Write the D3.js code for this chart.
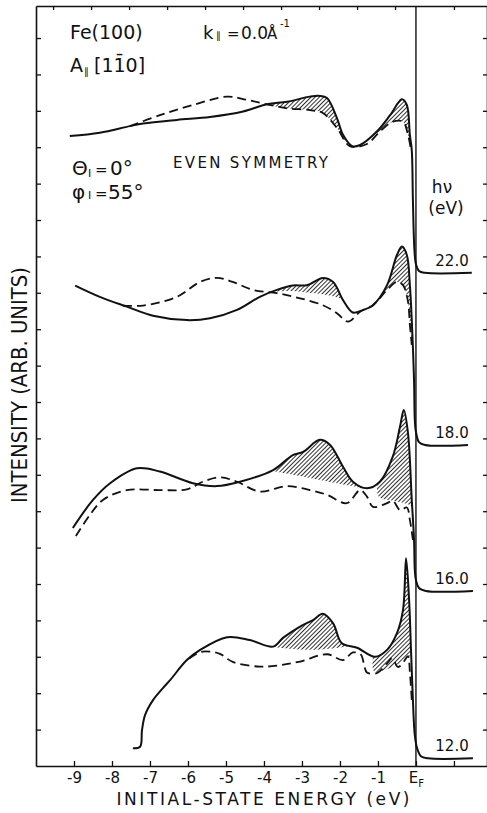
<!DOCTYPE html>
<html>
<head>
<meta charset="utf-8">
<script src="https://cdn.jsdelivr.net/npm/d3@7"></script>
<style>
  body { margin: 0; background: #fff; }
  svg { display: block; }
  text { font-family: "DejaVu Sans", "Liberation Sans", sans-serif; fill: #111; }
</style>
</head>
<body>
<svg id="chart" width="487" height="813"></svg>
<script>
// Energy axis: initial-state energy in eV (E_F = 0)
const energyTicks = [-9, -8, -7, -6, -5, -4, -3, -2, -1, 0, 1];
const energyTickLabels = ["-9", "-8", "-7", "-6", "-5", "-4", "-3", "-2", "-1", "E", ""];
const topTicks = [-9.55, -8.55, -7.55, -6.55, -5.55, -4.55, -3.55, -2.55, -1.55, -0.55, 1.0];
const intensityTicks = d3.range(1, 21);
const photonEnergies = ["22.0", "18.0", "16.0", "12.0"];

// Spectra [energy (eV), intensity (arb. units, offset)]
const solid22 = [[-9.11,17.31],[-8.32,17.40],[-7.53,17.58],[-7.18,17.65],[-6.29,17.75],[-5.42,17.83],[-4.55,17.98],[-3.92,18.18],[-3.39,18.25],[-2.79,18.39],[-2.53,18.41],[-2.34,18.35],[-2.08,17.80],[-1.92,17.34],[-1.68,17.03],[-1.47,17.06],[-1.03,17.43],[-0.68,17.88],[-0.37,18.32],[-0.24,18.16],[-0.16,17.34],[-0.11,16.92],[-0.08,15.55],[-0.04,14.18],[0.0,13.79],[0.08,13.60],[0.24,13.55],[1.47,13.55]];
const dashed22 = [[-7.53,17.58],[-6.74,17.88],[-5.87,18.16],[-4.97,18.39],[-4.45,18.30],[-3.92,18.18],[-3.39,18.07],[-2.79,18.02],[-2.45,17.94],[-2.08,17.53],[-1.74,17.03],[-1.29,17.09],[-0.95,17.43],[-0.61,17.70],[-0.34,17.70],[-0.21,17.34],[-0.13,16.92]];
const hatch22a = [[-3.95,18.17],[-3.39,18.07],[-2.79,18.02],[-2.45,17.94],[-2.08,17.53],[-1.85,17.15]];
const hatch22b = [[-1.05,17.38],[-0.95,17.43],[-0.61,17.70],[-0.34,17.70],[-0.21,17.34],[-0.13,16.92],[-0.08,16.0]];

const solid18 = [[-8.97,13.20],[-8.32,12.89],[-7.61,12.62],[-6.92,12.37],[-6.03,12.25],[-5.42,12.30],[-4.71,12.53],[-4.11,12.89],[-3.66,13.08],[-3.24,13.20],[-2.87,13.21],[-2.45,13.41],[-2.18,13.30],[-1.92,12.80],[-1.66,12.46],[-1.39,12.53],[-1.13,12.66],[-0.76,13.21],[-0.50,14.04],[-0.37,14.27],[-0.24,14.04],[-0.16,13.21],[-0.11,12.25],[-0.05,10.60],[-0.03,9.51],[0.0,9.18],[0.08,8.90],[0.24,8.82],[1.37,8.82]];
const dashed18 = [[-7.71,12.65],[-7.18,12.65],[-6.29,12.89],[-5.68,13.30],[-5.24,13.41],[-4.82,13.30],[-4.29,13.08],[-3.66,12.99],[-3.05,12.85],[-2.45,12.66],[-2.08,12.44],[-1.79,12.21],[-1.47,12.48],[-1.13,12.66],[-0.76,13.08],[-0.50,13.30],[-0.34,13.21],[-0.21,12.76],[-0.16,12.12],[-0.11,11.57]];
const hatch18a = [[-3.9,13.02],[-3.3,13.05],[-2.8,13.0],[-2.3,12.93],[-1.92,12.80],[-1.8,12.6]];
const hatch18b = [[-0.9,12.95],[-0.76,13.08],[-0.50,13.30],[-0.34,13.21],[-0.21,12.76],[-0.16,12.12],[-0.11,11.57]];

const solid16 = [[-9.03,6.54],[-8.50,7.31],[-8.05,7.77],[-7.34,8.18],[-6.74,8.09],[-5.87,7.77],[-5.24,7.69],[-4.63,7.81],[-3.76,8.13],[-3.24,8.54],[-2.97,8.63],[-2.53,8.96],[-2.26,8.82],[-1.92,8.22],[-1.66,7.81],[-1.29,7.63],[-0.95,7.81],[-0.61,8.50],[-0.42,9.32],[-0.32,9.78],[-0.21,9.15],[-0.11,7.31],[-0.05,6.21],[-0.03,5.38],[0.0,5.11],[0.08,4.89],[0.26,4.81],[1.50,4.81]];
const dashed16 = [[-8.95,6.32],[-8.58,6.90],[-8.24,7.31],[-7.61,7.58],[-6.74,7.58],[-6.03,7.60],[-5.61,7.81],[-5.16,7.93],[-4.71,7.81],[-4.11,7.54],[-3.39,7.69],[-2.79,7.58],[-2.34,7.45],[-1.82,7.22],[-1.47,7.58],[-1.29,7.40],[-1.13,7.12],[-0.76,7.22],[-0.61,7.29],[-0.42,7.03],[-0.24,7.10],[-0.16,6.76],[-0.08,6.21]];
const hatch16a = [[-3.76,8.10],[-3.05,7.97],[-2.26,7.80],[-1.42,7.64]];
const hatch16b = [[-1.02,7.78],[-0.98,7.40],[-0.55,7.28],[-0.11,7.12],[-0.05,6.7]];

const solid12 = [[-7.45,0.49],[-7.26,0.53],[-7.21,0.99],[-7.13,1.40],[-6.92,1.81],[-6.66,2.14],[-6.47,2.36],[-6.03,2.91],[-5.68,3.19],[-4.97,3.54],[-4.37,3.46],[-3.76,3.28],[-3.50,3.52],[-3.05,3.83],[-2.71,4.01],[-2.45,4.18],[-2.18,3.92],[-1.95,3.37],[-1.55,3.25],[-1.08,3.00],[-0.76,3.19],[-0.50,3.65],[-0.34,4.29],[-0.26,5.71],[-0.18,4.56],[-0.13,3.19],[-0.08,1.81],[-0.03,0.85],[0.03,0.49],[0.13,0.27],[0.32,0.21],[1.50,0.21]];
const dashed12 = [[-5.97,2.95],[-5.68,3.13],[-5.42,3.14],[-5.16,3.08],[-4.82,2.86],[-4.11,2.73],[-3.58,2.77],[-3.05,2.87],[-2.34,3.07],[-1.92,2.91],[-1.66,3.12],[-1.45,3.06],[-1.36,2.75],[-1.29,2.57],[-1.03,2.55],[-0.76,2.82],[-0.63,2.96],[-0.47,2.72],[-0.32,2.87],[-0.21,3.02],[-0.16,2.58],[-0.11,1.81]];
const hatch12a = [[-3.78,3.27],[-3.05,3.20],[-2.5,3.20],[-1.95,3.26],[-1.8,3.28]];
const hatch12b = [[-1.13,3.02],[-1.1,2.60],[-0.68,2.69],[-0.29,2.91],[-0.11,3.05],[-0.05,2.4]];

const spectra = [
  { label: photonEnergies[0], solid: solid22, dashed: dashed22, hatch: [hatch22a, hatch22b] },
  { label: photonEnergies[1], solid: solid18, dashed: dashed18, hatch: [hatch18a, hatch18b] },
  { label: photonEnergies[2], solid: solid16, dashed: dashed16, hatch: [hatch16a, hatch16b] },
  { label: photonEnergies[3], solid: solid12, dashed: dashed12, hatch: [hatch12a, hatch12b] }
];

const svg = d3.select("#chart");
const x = d3.scaleLinear().domain([-10, 1.87]).range([36, 487]);
const y = d3.scaleLinear().domain([0, 20.88]).range([766, 6]);

// diagonal hatching
const defs = svg.append("defs");
const pat = defs.append("pattern")
  .attr("id", "hatch").attr("patternUnits", "userSpaceOnUse")
  .attr("width", 3).attr("height", 3)
  .attr("patternTransform", "rotate(45)");
pat.append("line").attr("x1", 0.5).attr("y1", 0).attr("x2", 0.5).attr("y2", 3)
  .attr("stroke", "#1a1a1a").attr("stroke-width", 0.9);

const curve = d3.curveCatmullRom.alpha(0.5);
const line = d3.line().x(d => x(d[0])).y(d => y(d[1])).curve(curve);
const under = d3.area().x(d => x(d[0])).y0(y(0)).y1(d => y(d[1])).curve(curve);
const band = d3.area().x(d => x(d[0])).y0(d => y(d[1])).y1(d => y(d[1] + 2.5)).curve(curve);

const plot = svg.append("g");
spectra.forEach((s, i) => {
  defs.append("clipPath").attr("id", "under" + i)
    .append("path").attr("d", under(s.solid));
  s.hatch.forEach(h => {
    plot.append("path").attr("d", band(h))
      .attr("fill", "url(#hatch)").attr("clip-path", `url(#under${i})`);
  });
  plot.append("path").attr("d", line(s.dashed))
    .attr("fill", "none").attr("stroke", "#111").attr("stroke-width", 1.8)
    .attr("stroke-dasharray", "9,5");
  plot.append("path").attr("d", line(s.solid))
    .attr("fill", "none").attr("stroke", "#111").attr("stroke-width", 2)
    .attr("stroke-linejoin", "round");
  const last = s.solid[s.solid.length - 1];
  svg.append("text").attr("x", x(0.95)).attr("y", y(last[1]) - 7)
    .attr("text-anchor", "middle").attr("font-size", 15).text(s.label);
});

// axes / frame
const styleAxis = g => {
  g.selectAll("path.domain").attr("stroke", "#111").attr("stroke-width", 1.6);
  g.selectAll(".tick line").attr("stroke", "#111").attr("stroke-width", 1.3);
};
svg.append("g").attr("transform", `translate(0,${y(0)})`)
  .call(d3.axisBottom(x).tickValues(energyTicks).tickSizeInner(-5).tickSizeOuter(0)
    .tickPadding(6).tickFormat((d, i) => energyTickLabels[i]))
  .call(styleAxis)
  .call(g => {
    g.selectAll(".tick text").attr("font-size", 15).attr("font-family", null).attr("fill", "#111");
    g.selectAll(".tick").filter(d => d === 0).select("text")
      .attr("text-anchor", "middle")
      .append("tspan").attr("font-size", 10).attr("dy", 4).text("F");
  });
svg.append("g").attr("transform", `translate(0,${y(20.88)})`)
  .call(d3.axisTop(x).tickValues(topTicks).tickSizeInner(-4).tickSizeOuter(0).tickFormat(""))
  .call(styleAxis);
svg.append("g").attr("transform", `translate(${x(-10)},0)`)
  .call(d3.axisLeft(y).tickValues(intensityTicks).tickSizeInner(-5).tickSizeOuter(0).tickFormat(""))
  .call(styleAxis);
svg.append("g").attr("transform", `translate(${x(1.87)},0)`)
  .call(d3.axisRight(y).tickValues(intensityTicks).tickSizeInner(-4).tickSizeOuter(0).tickFormat(""))
  .call(styleAxis);

// Fermi level
svg.append("line").attr("x1", x(0)).attr("x2", x(0)).attr("y1", y(20.88)).attr("y2", y(0))
  .attr("stroke", "#111").attr("stroke-width", 1.4);

// axis titles
svg.append("text").attr("transform", "translate(27,385) rotate(-90)")
  .attr("text-anchor", "middle").attr("font-size", 21)
  .attr("textLength", 236).attr("lengthAdjust", "spacingAndGlyphs")
  .text("INTENSITY (ARB. UNITS)");
svg.append("text").attr("x", 263).attr("y", 805)
  .attr("text-anchor", "middle").attr("font-size", 17)
  .attr("textLength", 293).attr("lengthAdjust", "spacing")
  .text("INITIAL-STATE ENERGY (eV)");

// annotations
const ann = svg.append("g");
ann.append("text").attr("x", 70).attr("y", 39).attr("font-size", 19).text("Fe(100)");
const k = ann.append("text").attr("y", 39).attr("font-size", 18);
k.append("tspan").attr("x", 203).text("k");
k.append("tspan").attr("x", 216).attr("font-size", 10).text("\u2225");
k.append("tspan").attr("x", 227).attr("font-size", 15).text("=");
k.append("tspan").attr("x", 241).attr("font-size", 17).text("0.0");
k.append("tspan").attr("x", 267).attr("font-size", 15).text("Å");
k.append("tspan").attr("x", 280).attr("y", 27).attr("font-size", 10).text("-1");
const a = ann.append("text").attr("y", 72).attr("font-size", 19);
a.append("tspan").attr("x", 70).text("A");
a.append("tspan").attr("x", 84).attr("y", 75).attr("font-size", 10).text("\u2225");
a.append("tspan").attr("x", 94).attr("y", 72).text("[11\u03040]");
const th = ann.append("text").attr("y", 175).attr("font-size", 20);
th.append("tspan").attr("x", 72).text("Θ");
th.append("tspan").attr("x", 88).attr("y", 177).attr("font-size", 11).text("I");
th.append("tspan").attr("x", 95).attr("y", 175).attr("font-size", 15).text("=");
th.append("tspan").attr("x", 110).text("0°");
const ph = ann.append("text").attr("y", 199).attr("font-size", 20);
ph.append("tspan").attr("x", 72).text("φ");
ph.append("tspan").attr("x", 88).attr("y", 199).attr("font-size", 11).text("I");
ph.append("tspan").attr("x", 95).attr("font-size", 15).text("=");
ph.append("tspan").attr("x", 108).text("55°");
ann.append("text").attr("x", 173).attr("y", 168).attr("font-size", 15)
  .attr("textLength", 155).attr("lengthAdjust", "spacing").text("EVEN SYMMETRY");
ann.append("text").attr("x", 442).attr("y", 193).attr("text-anchor", "middle").attr("font-size", 17).text("hν");
ann.append("text").attr("x", 446).attr("y", 214).attr("text-anchor", "middle").attr("font-size", 17).text("(eV)");
</script>
</body>
</html>
